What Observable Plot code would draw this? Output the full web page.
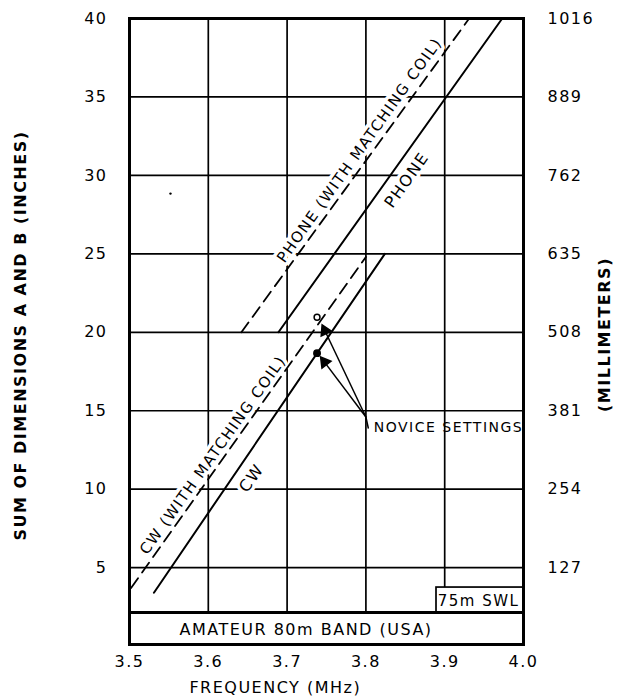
<!DOCTYPE html>
<html><head><meta charset="utf-8">
<script src="https://cdn.jsdelivr.net/npm/d3@7"></script>
<script src="https://cdn.jsdelivr.net/npm/@observablehq/plot@0.6"></script>
<style>
body{margin:0;background:#fff}
svg text{letter-spacing:1.5px}
</style>
</head><body><div id="chart"></div>
<script>
// ---- tick labels ----
const freqTicks = [3.5, 3.6, 3.7, 3.8, 3.9, 4.0];
const inchTicks = [5, 10, 15, 20, 25, 30, 35, 40];
const mmLabels = ["127", "254", "381", "508", "635", "762", "889", "1016"];
const gridFreq = [3.6, 3.7, 3.8, 3.9];
const gridInch = [5, 10, 15, 20, 25, 30, 35];

// ---- curves (frequency MHz, sum of A+B inches) ----
const phoneCoilFreq = [3.642, 3.931], phoneCoilLen = [20, 40];
const phoneFreq = [3.689, 3.973], phoneLen = [20, 40];
const cwCoilFreq = [3.502, 3.800], cwCoilLen = [3.7, 24.8];
const cwFreq = [3.531, 3.824], cwLen = [3.4, 25];

// ---- novice settings ----
const noviceFreq = [3.738, 3.738], noviceLen = [20.96, 18.67], noviceOpen = [true, false];
const arrowTailFreq = 3.800, arrowTailLen = 14.6;
const arrowHeadFreq = [3.748, 3.7475], arrowHeadLen = [20.1, 18.1];
const leaderFreq = [3.800, 3.803], leaderLen = [14.6, 13.9];
const noviceLabel = "NOVICE SETTINGS", noviceLabelFreq = 3.810, noviceLabelLen = 13.9;

// ---- bands ----
const bandTop = 2.14;
const bandLabel = "AMATEUR 80m BAND (USA)", bandLabelFreq = 3.724, bandLabelLen = 1.06;
const swlFreq = [3.8896, 4.0], swlLen = [2.14, 3.73];
const swlLabel = "75m SWL", swlLabelFreq = 3.943, swlLabelLen = 2.85;

// ---- line labels ----
const lineLabels = ["PHONE (WITH MATCHING COIL)", "PHONE", "CW (WITH MATCHING COIL)", "CW"];
const lineLabelFreq = [3.792, 3.852, 3.606, 3.655];
const lineLabelLen = [31.6, 29.7, 12.17, 10.7];
const lineLabelSize = [15, 16, 15, 16];
const speck = [{f: 3.552, l: 28.84}];

// ---- layout ----
const W = 618, H = 698, ml = 129, mr = 95, mt = 18, mb = 54;
const xDomain = [3.5, 4.0], yDomain = [0.1, 40];
const xs = d3.scaleLinear(xDomain, [ml, W - mr]);
const ys = d3.scaleLinear(yDomain, [H - mb, mt]);

const pts = (f, l) => f.map((v, i) => ({f: v, l: l[i]}));
const slopeDeg = Math.atan2(ys(phoneLen[1]) - ys(phoneLen[0]), xs(phoneFreq[1]) - xs(phoneFreq[0])) * 180 / Math.PI;

const labelData = lineLabels.map((t, i) => ({t, f: lineLabelFreq[i], l: lineLabelLen[i], s: lineLabelSize[i]}));
const heads = arrowHeadFreq.map((f, i) => {
  const l = arrowHeadLen[i];
  const dx = xs(f) - xs(arrowTailFreq), dy = ys(l) - ys(arrowTailLen);
  return {f, l, rot: Math.atan2(dx, -dy) * 180 / Math.PI};
});
const arrowLinks = heads.map(h => ({f1: arrowTailFreq, l1: arrowTailLen, f2: h.f, l2: h.l}));
const novice = pts(noviceFreq, noviceLen).map((d, i) => ({...d, open: noviceOpen[i]}));

const dash = "12,7";
const plot = Plot.plot({
  width: W, height: H,
  marginLeft: ml, marginRight: mr, marginTop: mt, marginBottom: mb,
  style: {fontFamily: "DejaVu Sans", background: "white", color: "black"},
  x: {domain: xDomain, label: null},
  y: {domain: yDomain, label: null},
  marks: [
    Plot.ruleX(gridFreq, {y1: bandTop, y2: 40, stroke: "black", strokeWidth: 1.7}),
    Plot.ruleY(gridInch, {x1: 3.5, x2: 4.0, stroke: "black", strokeWidth: 1.7}),
    Plot.rect([{x1: swlFreq[0], x2: swlFreq[1], y1: swlLen[0], y2: swlLen[1]}], {x1: "x1", x2: "x2", y1: "y1", y2: "y2", fill: "white", stroke: "black", strokeWidth: 1.7}),
    Plot.ruleY([bandTop], {x1: 3.5, x2: 4.0, stroke: "black", strokeWidth: 3}),
    Plot.text(labelData, {x: "f", y: "l", text: "t", fontSize: "s", rotate: slopeDeg, fill: "black", stroke: "white", strokeWidth: 7}),
    Plot.line(pts(phoneCoilFreq, phoneCoilLen), {x: "f", y: "l", stroke: "black", strokeWidth: 1.8, strokeDasharray: dash}),
    Plot.line(pts(phoneFreq, phoneLen), {x: "f", y: "l", stroke: "black", strokeWidth: 2}),
    Plot.line(pts(cwCoilFreq, cwCoilLen), {x: "f", y: "l", stroke: "black", strokeWidth: 1.8, strokeDasharray: dash}),
    Plot.line(pts(cwFreq, cwLen), {x: "f", y: "l", stroke: "black", strokeWidth: 2}),
    Plot.link(arrowLinks, {x1: "f1", y1: "l1", x2: "f2", y2: "l2", stroke: "black", strokeWidth: 1.5}),
    Plot.line(pts(leaderFreq, leaderLen), {x: "f", y: "l", stroke: "black", strokeWidth: 1.5}),
    Plot.dot(heads, {x: "f", y: "l", symbol: "triangle", r: 4.2, rotate: "rot", fill: "black", stroke: "black"}),
    Plot.dot(novice, {x: "f", y: "l", r: d => d.open ? 3.2 : 3.8, fill: d => d.open ? "white" : "black", stroke: "black", strokeWidth: 1.5}),
    Plot.dot(speck, {x: "f", y: "l", r: 1.2, fill: "black"}),
    Plot.text([noviceLabel], {x: noviceLabelFreq, y: noviceLabelLen, textAnchor: "start", fontSize: 14, fill: "black"}),
    Plot.text([bandLabel], {x: bandLabelFreq, y: bandLabelLen, fontSize: 16, fill: "black"}),
    Plot.text([swlLabel], {x: swlLabelFreq, y: swlLabelLen, fontSize: 15, fill: "black"}),
    Plot.frame({stroke: "black", strokeWidth: 3}),
    Plot.axisX({ticks: freqTicks, tickFormat: d3.format(".1f"), tickSize: 0, tickPadding: 11, fontSize: 16, label: null}),
    Plot.axisY({ticks: inchTicks, tickSize: 0, tickPadding: 22, fontSize: 16, label: null}),
    Plot.axisY({anchor: "right", ticks: inchTicks, tickFormat: (d) => mmLabels[inchTicks.indexOf(d)], tickSize: 0, tickPadding: 24, fontSize: 16, label: null}),
    Plot.text(["FREQUENCY (MHz)"], {x: 3.685, frameAnchor: "bottom", dy: 48, fontSize: 16, fill: "black"}),
    Plot.text(["SUM OF DIMENSIONS A AND B (INCHES)"], {frameAnchor: "left", textAnchor: "middle", dx: -109, dy: 4, rotate: -90, fontSize: 16, fontWeight: "bold", fill: "black"}),
    Plot.text(["(MILLIMETERS)"], {frameAnchor: "right", textAnchor: "middle", dx: 81, dy: 3, rotate: -90, fontSize: 16, fontWeight: "bold", fill: "black"})
  ]
});
document.getElementById("chart").appendChild(plot);
</script>
</body></html>
